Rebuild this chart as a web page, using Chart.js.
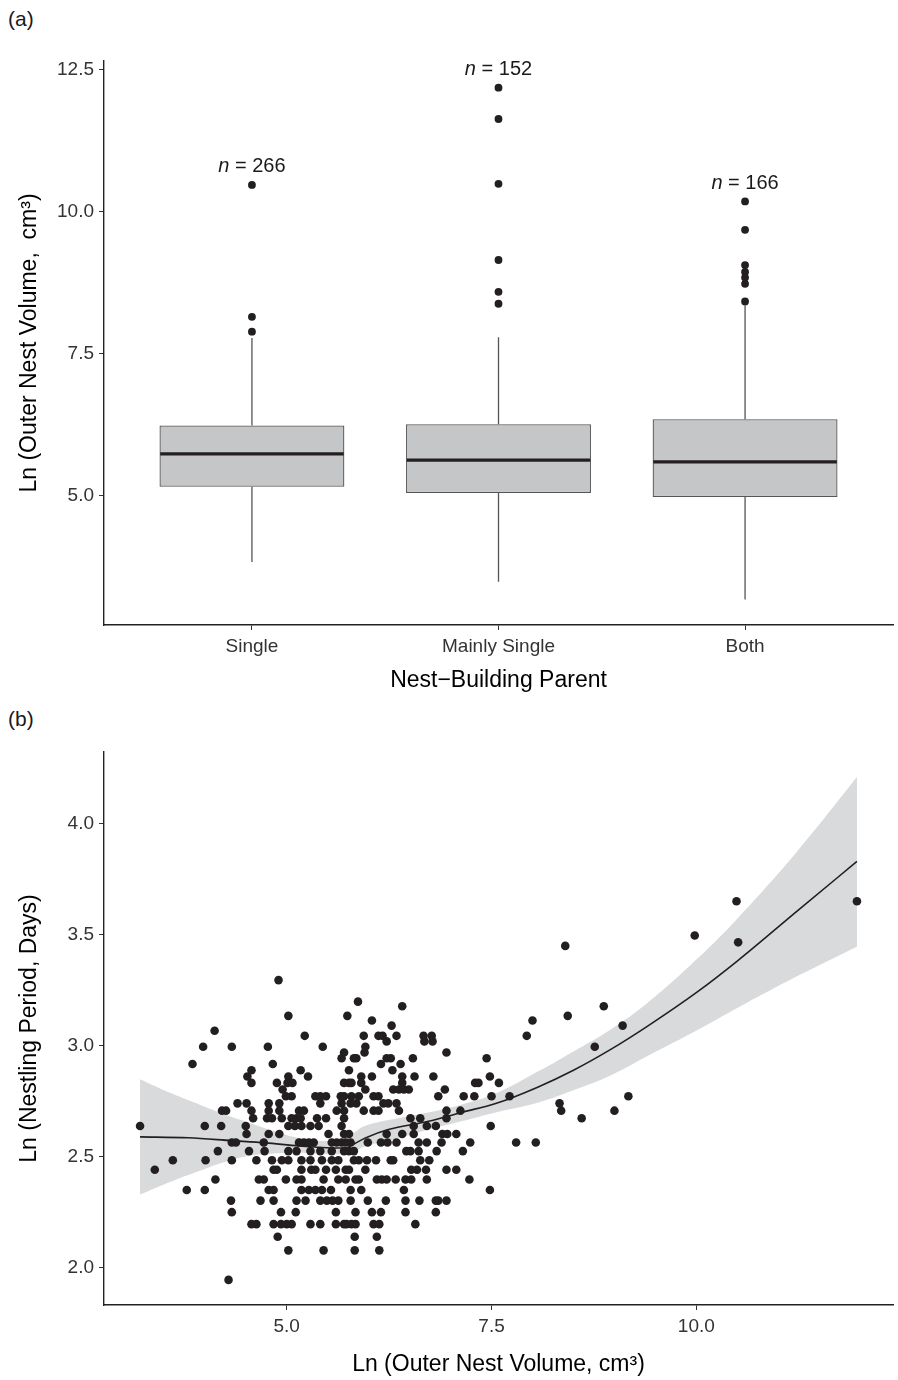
<!DOCTYPE html>
<html><head><meta charset="utf-8">
<script src="https://cdn.jsdelivr.net/npm/chart.js@4.4.1/dist/chart.umd.min.js"></script>
<style>
html,body{margin:0;padding:0;background:#fff;}
#wrap{position:relative;width:898px;height:1380px;overflow:hidden;}
.c{position:absolute;left:0;}
.lab{position:absolute;left:8px;font:21px "Liberation Sans",Arial,sans-serif;color:#1a1a1a;line-height:24px;}
</style></head><body>
<div id="wrap">
<div class="lab" style="top:7px">(a)</div>
<div class="lab" style="top:707px">(b)</div>
<div class="c" style="top:0"><canvas id="ca" width="898" height="700"></canvas></div>
<div class="c" style="top:700px"><canvas id="cb" width="898" height="680"></canvas></div>
</div>
<script>
// ---------- Panel (a) data ----------
const categories = ['Single', 'Mainly Single', 'Both'];
const boxQ1 = [5.16, 5.05, 4.98];
const boxMedian = [5.74, 5.63, 5.60];
const boxQ3 = [6.24, 6.26, 6.35];
const whiskerLow = [3.84, 3.49, 3.18];
const whiskerHigh = [7.78, 7.79, 8.35];
const outliersSingle = [7.89, 8.15, 10.47];
const outliersMainly = [8.38, 8.59, 9.15, 10.49, 11.63, 12.18];
const outliersBoth = [8.42, 8.73, 8.84, 8.94, 9.06, 9.68, 10.18];
const groupN = [266, 152, 166];
const nLabelY = [10.80, 12.50, 10.50];
const volTicksA = [5.0, 7.5, 10.0, 12.5];

// ---------- Panel (b) data ----------
const volTicksB = [5.0, 7.5, 10.0];
const periodTicks = [2.0, 2.5, 3.0, 3.5, 4.0];
const periodLevels = [3.651, 3.497, 3.466, 3.450, 3.296, 3.199, 3.178, 3.135, 3.114, 3.091, 3.068, 3.045, 3.020, 2.996, 2.970, 2.944, 2.918, 2.890, 2.862, 2.833, 2.803, 2.773, 2.741, 2.708, 2.674, 2.639, 2.603, 2.565, 2.526, 2.485, 2.442, 2.398, 2.351, 2.303, 2.251, 2.197, 2.140, 2.079, 1.946];
const volumeByLevel = [
  [10.49, 11.96],
  [9.98],
  [10.51],
  [8.40],
  [4.90],
  [5.87],
  [6.41, 8.87],
  [5.02, 5.74, 8.43],
  [6.04, 8.00],
  [6.28, 9.10],
  [4.12],
  [5.22, 5.94, 6.12, 6.17, 6.34, 6.67, 6.77, 7.93],
  [6.22, 6.68, 6.78],
  [3.98, 4.33, 4.77, 5.44, 5.96, 8.76],
  [5.70, 5.95, 6.95],
  [5.67, 5.82, 5.85, 6.22, 6.27, 6.54, 7.44],
  [3.85, 4.83, 6.15, 6.39],
  [4.57, 5.17, 5.76, 6.29],
  [4.52, 5.02, 5.26, 5.91, 6.04, 6.41, 6.56, 6.79, 7.48],
  [4.57, 4.88, 5.01, 5.07, 5.70, 5.76, 5.79, 5.91, 6.41, 7.30, 7.34, 7.59],
  [4.95, 5.96, 6.30, 6.37, 6.43, 6.49, 6.93],
  [4.99, 5.06, 5.35, 5.41, 5.48, 5.66, 5.70, 5.79, 5.88, 6.06, 6.12, 6.85, 7.16, 7.29, 7.50, 7.72, 9.17],
  [4.40, 4.51, 4.78, 4.91, 5.41, 5.67, 5.78, 5.85, 6.18, 6.24, 6.34, 8.33],
  [4.21, 4.26, 4.57, 4.78, 4.91, 5.15, 5.21, 5.61, 5.70, 5.94, 6.06, 6.12, 6.37, 6.95, 7.12, 8.35, 9.00],
  [4.59, 4.76, 4.82, 4.94, 5.06, 5.12, 5.17, 5.37, 5.48, 5.70, 6.51, 6.63, 6.95, 8.60],
  [3.21, 4.00, 4.20, 4.50, 5.02, 5.10, 5.18, 5.29, 5.39, 5.67, 6.55, 6.71, 6.82, 7.49],
  [4.51, 4.78, 4.91, 5.51, 5.70, 5.76, 6.22, 6.41, 6.55, 6.90, 6.96, 7.07],
  [4.33, 4.38, 4.72, 5.15, 5.21, 5.27, 5.33, 5.55, 5.61, 5.67, 5.72, 5.78, 5.99, 6.15, 6.23, 6.34, 6.61, 6.71, 6.89, 7.24, 7.80, 8.04],
  [4.16, 4.54, 4.73, 5.02, 5.12, 5.29, 5.41, 5.55, 5.70, 5.76, 5.82, 6.46, 6.51, 6.61, 6.83, 7.15],
  [3.61, 4.01, 4.33, 4.63, 4.82, 4.94, 5.02, 5.18, 5.29, 5.43, 5.55, 5.63, 5.82, 5.88, 5.98, 6.09, 6.27, 6.30, 6.63, 6.74],
  [3.39, 4.84, 4.88, 5.18, 5.30, 5.35, 5.48, 5.60, 5.72, 5.76, 5.96, 6.52, 6.59, 6.70, 6.95, 7.07],
  [4.13, 4.66, 4.72, 4.99, 5.12, 5.18, 5.45, 5.63, 5.72, 5.84, 5.88, 6.10, 6.16, 6.22, 6.33, 6.45, 6.52, 6.71, 7.23],
  [3.78, 4.00, 4.78, 4.84, 5.18, 5.27, 5.35, 5.43, 5.54, 5.78, 5.91, 6.43, 7.48],
  [4.32, 4.68, 4.84, 5.12, 5.23, 5.41, 5.49, 5.56, 5.63, 5.78, 5.99, 6.21, 6.45, 6.62, 6.82, 6.85, 6.95],
  [4.33, 4.93, 5.11, 5.60, 5.84, 6.04, 6.15, 6.45, 6.82],
  [4.57, 4.63, 4.84, 4.93, 5.00, 5.06, 5.29, 5.41, 5.60, 5.70, 5.73, 5.79, 5.84, 6.06, 6.13, 6.57],
  [4.89, 5.83, 6.10],
  [5.02, 5.45, 5.83, 6.13],
  [4.29]
];
const fitX = [3.21, 3.80, 4.33, 4.74, 5.15, 5.55, 5.72, 5.79, 5.96, 6.24, 6.73, 7.13, 7.55, 8.07, 8.50, 8.96, 9.41, 10.02, 10.51, 11.24, 11.96];
const fitY = [2.590, 2.586, 2.573, 2.563, 2.549, 2.540, 2.540, 2.552, 2.585, 2.623, 2.660, 2.700, 2.740, 2.815, 2.890, 2.985, 3.090, 3.245, 3.385, 3.610, 3.830];
const bandX = [3.21, 3.60, 3.94, 4.25, 4.55, 4.85, 5.15, 5.55, 5.79, 5.96, 6.37, 6.73, 7.13, 7.55, 8.07, 8.50, 8.96, 9.41, 10.02, 10.51, 11.24, 11.96];
const bandLow = [2.330, 2.390, 2.437, 2.478, 2.505, 2.515, 2.518, 2.512, 2.520, 2.548, 2.585, 2.623, 2.660, 2.700, 2.745, 2.800, 2.868, 2.955, 3.072, 3.172, 3.315, 3.446];
const bandHigh = [2.850, 2.785, 2.735, 2.690, 2.653, 2.615, 2.585, 2.573, 2.603, 2.640, 2.675, 2.700, 2.735, 2.785, 2.885, 2.975, 3.075, 3.195, 3.395, 3.577, 3.880, 4.210];

// ---------- shared styling ----------
const FAM = '"Liberation Sans", Arial, Helvetica, sans-serif';
const INK = '#231f20';
const TICK_FONT = {family: FAM, size: 19};
const TITLE_FONT = {family: FAM, size: 23};

function axisStyle() {
  return {
    grid: {drawOnChartArea: false, drawTicks: true, tickLength: 5, color: '#333', lineWidth: 1},
    border: {display: true, color: '#222', width: 1.4},
    ticks: {font: TICK_FONT, color: '#333', padding: 5, maxRotation: 0, autoSkip: false}
  };
}

// ---------- Panel (a) ----------
const whiskerPts = [];
categories.forEach((c, i) => {
  whiskerPts.push({x: i + 1, y: whiskerLow[i]}, {x: i + 1, y: boxQ1[i]}, {x: i + 1, y: null});
  whiskerPts.push({x: i + 1, y: boxQ3[i]}, {x: i + 1, y: whiskerHigh[i]}, {x: i + 1, y: null});
});
const outlierPts = [];
[outliersSingle, outliersMainly, outliersBoth].forEach((arr, i) => arr.forEach(v => outlierPts.push({x: i + 1, y: v})));

const boxExtras = {
  id: 'boxExtras',
  afterDatasetsDraw(chart) {
    const ctx = chart.ctx, ys = chart.scales.y, xs = chart.scales.x;
    const meta = chart.getDatasetMeta(0);
    ctx.save();
    ctx.strokeStyle = INK; ctx.lineWidth = 3.4; ctx.lineCap = 'butt';
    meta.data.forEach((bar, i) => {
      const py = ys.getPixelForValue(boxMedian[i]);
      const half = bar.width / 2 - 0.7;
      ctx.beginPath(); ctx.moveTo(bar.x - half, py); ctx.lineTo(bar.x + half, py); ctx.stroke();
    });
    ctx.fillStyle = '#1a1a1a'; ctx.textBaseline = 'middle'; ctx.textAlign = 'left';
    groupN.forEach((n, i) => {
      const cx = xs.getPixelForValue(i + 1), cy = ys.getPixelForValue(nLabelY[i]);
      ctx.font = 'italic 20px ' + FAM; const w1 = ctx.measureText('n').width;
      const rest = ' = ' + n;
      ctx.font = '20px ' + FAM; const w2 = ctx.measureText(rest).width;
      const sx = cx - (w1 + w2) / 2;
      ctx.font = 'italic 20px ' + FAM; ctx.fillText('n', sx, cy);
      ctx.font = '20px ' + FAM; ctx.fillText(rest, sx + w1, cy);
    });
    ctx.restore();
  }
};

const axA = axisStyle(), ayA = axisStyle();
new Chart(document.getElementById('ca'), {
  type: 'bar',
  data: {
    datasets: [
      {type: 'bar', data: categories.map((c, i) => ({x: i + 1, y: [boxQ1[i], boxQ3[i]]})),
       backgroundColor: '#c5c6c8', borderColor: '#555555', borderWidth: 1.3, borderSkipped: false,
       barPercentage: 0.75, categoryPercentage: 1, order: 2},
      {type: 'line', data: whiskerPts, borderColor: '#555555', borderWidth: 1.3, pointRadius: 0,
       spanGaps: false, tension: 0, fill: false, order: 3},
      {type: 'scatter', data: outlierPts, pointRadius: 3.9, pointBackgroundColor: INK,
       pointBorderWidth: 0, order: 1}
    ]
  },
  options: {
    responsive: false, animation: false, events: [],
    layout: {padding: {left: 0, right: 5, top: 61, bottom: 0}},
    plugins: {legend: {display: false}, tooltip: {enabled: false}},
    scales: {
      x: {type: 'linear', min: 0.4, max: 3.6, offset: false,
          grid: Object.assign({}, axA.grid, {offset: false}), border: axA.border,
          ticks: Object.assign({}, axA.ticks, {callback: v => categories[Math.round(v) - 1]}),
          afterBuildTicks: s => { s.ticks = categories.map((c, i) => ({value: i + 1})); },
          afterFit: s => { s.height = 75; },
          title: {display: true, text: 'Nest\u2212Building Parent', font: TITLE_FONT, color: '#000', padding: {top: 0, bottom: 6}}},
      y: {type: 'linear', min: 2.73, max: 12.65,
          grid: ayA.grid, border: ayA.border,
          ticks: Object.assign({}, ayA.ticks, {callback: v => v.toFixed(1)}),
          afterBuildTicks: s => { s.ticks = volTicksA.map(v => ({value: v})); },
          afterFit: s => { s.width = 104; },
          title: {display: true, text: 'Ln (Outer Nest Volume,  cm\u00B3)', font: TITLE_FONT, color: '#000', padding: {top: 16, bottom: 0}}}
    }
  },
  plugins: [boxExtras]
});

// ---------- Panel (b) ----------
const scatterPts = [];
periodLevels.forEach((p, i) => volumeByLevel[i].forEach(v => scatterPts.push({x: v, y: p})));
const axB = axisStyle(), ayB = axisStyle();
new Chart(document.getElementById('cb'), {
  type: 'scatter',
  data: {
    datasets: [
      {type: 'line', data: bandX.map((x, i) => ({x: x, y: bandLow[i]})), borderWidth: 0, borderColor: 'rgba(0,0,0,0)',
       pointRadius: 0, fill: false, tension: 0.4, order: 4},
      {type: 'line', data: bandX.map((x, i) => ({x: x, y: bandHigh[i]})), borderWidth: 0, borderColor: 'rgba(0,0,0,0)',
       pointRadius: 0, fill: '-1', backgroundColor: '#d9dadb', tension: 0.4, order: 3},
      {type: 'scatter', data: scatterPts, pointRadius: 4.3, pointBackgroundColor: INK, pointBorderWidth: 0, order: 2},
      {type: 'line', data: fitX.map((x, i) => ({x: x, y: fitY[i]})), borderColor: INK, borderWidth: 1.6,
       pointRadius: 0, fill: false, cubicInterpolationMode: 'monotone', order: 1}
    ]
  },
  options: {
    responsive: false, animation: false, events: [],
    layout: {padding: {left: 0, right: 5, top: 52, bottom: 0}},
    plugins: {legend: {display: false}, tooltip: {enabled: false}},
    scales: {
      x: {type: 'linear', min: 2.77, max: 12.40,
          grid: axB.grid, border: axB.border,
          ticks: Object.assign({}, axB.ticks, {callback: v => v.toFixed(1)}),
          afterBuildTicks: s => { s.ticks = volTicksB.map(v => ({value: v})); },
          afterFit: s => { s.height = 75; },
          title: {display: true, text: 'Ln (Outer Nest Volume, cm\u00B3)', font: TITLE_FONT, color: '#000', padding: {top: 0, bottom: 2}}},
      y: {type: 'linear', min: 1.833, max: 4.323,
          grid: ayB.grid, border: ayB.border,
          ticks: Object.assign({}, ayB.ticks, {callback: v => v.toFixed(1)}),
          afterBuildTicks: s => { s.ticks = periodTicks.map(v => ({value: v})); },
          afterFit: s => { s.width = 104; },
          title: {display: true, text: 'Ln (Nestling Period, Days)', font: TITLE_FONT, color: '#000', padding: {top: 16, bottom: 0}}}
    }
  }
});
</script>
</body></html>
